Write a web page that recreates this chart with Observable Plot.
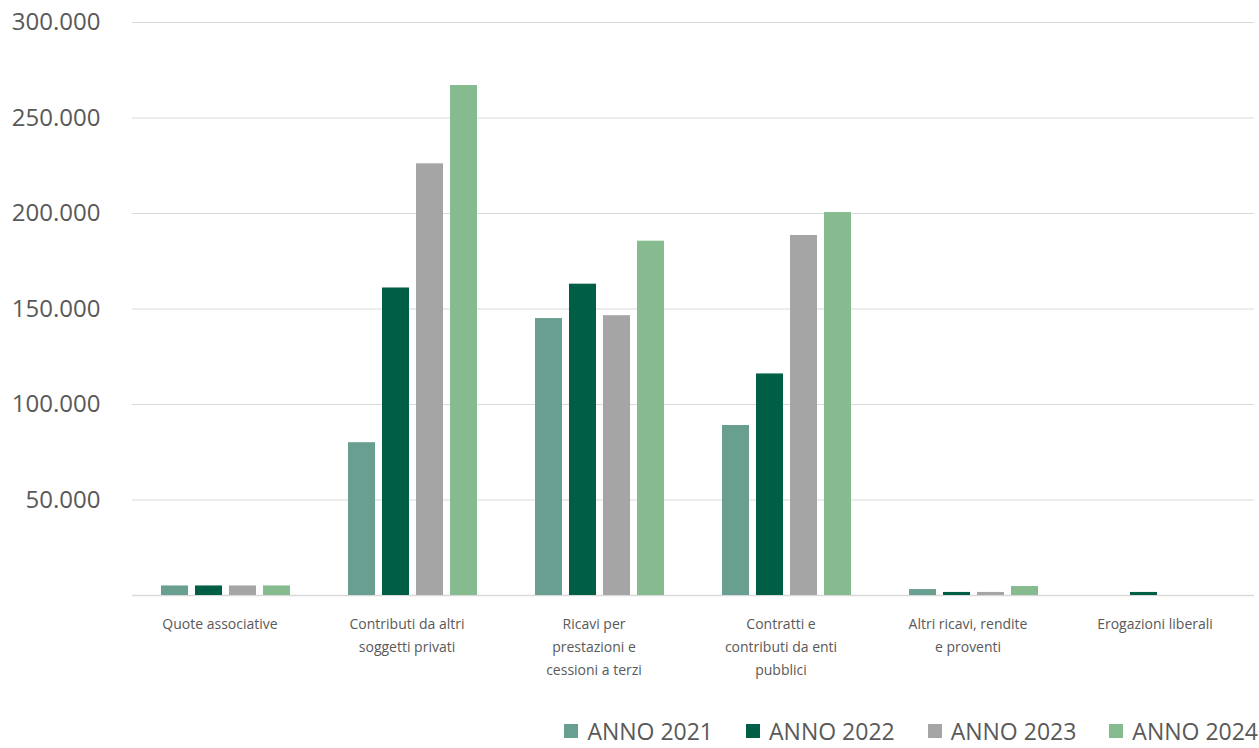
<!DOCTYPE html>
<html><head><meta charset="utf-8">
<script src="https://cdn.jsdelivr.net/npm/d3@7"></script>
<script src="https://cdn.jsdelivr.net/npm/@observablehq/plot@0.6"></script>
<style>
body{margin:0;background:#fff;font-family:"Open Sans",sans-serif;}
#chart{position:relative;width:1259px;height:748px;}
#legend{position:absolute;top:716px;right:1px;display:flex;gap:33px;font-size:23px;color:#595959;line-height:30px;}
.item{display:flex;align-items:center;gap:9px}
.sw{width:14px;height:14px;display:inline-block}
</style></head><body><div id="chart"></div>
<script>
const categories = ["Quote associative","Contributi da altri soggetti privati","Ricavi per prestazioni e cessioni a terzi","Contratti e contributi da enti pubblici","Altri ricavi, rendite e proventi","Erogazioni liberali"];
const categoryLabels = ["Quote associative","Contributi da altri\nsoggetti privati","Ricavi per\nprestazioni e\ncessioni a terzi","Contratti e\ncontributi da enti\npubblici","Altri ricavi, rendite\ne proventi","Erogazioni liberali"];
const years = ["ANNO 2021","ANNO 2022","ANNO 2023","ANNO 2024"];
const colors = ["#689f90","#005e47","#a5a5a5","#85bb8f"];
const values2021 = [5000, 80000, 145000, 89000, 3100, 0];
const values2022 = [5000, 161000, 163000, 116000, 1600, 1600];
const values2023 = [5000, 226000, 146500, 188500, 1600, 0];
const values2024 = [5000, 267000, 185500, 200500, 4700, 0];
const yTicks = [50000, 100000, 150000, 200000, 250000, 300000];

const series = [values2021, values2022, values2023, values2024];
const data = categories.flatMap((c, i) => series.map((arr, j) => ({category: c, year: years[j], value: arr[i]})));
const fmt = d3.formatLocale({decimal: ",", thousands: ".", grouping: [3], currency: ["", ""]}).format(",");
const labelOf = new Map(categories.map((c, i) => [c, categoryLabels[i]]));

const plot = Plot.plot({
  width: 1259, height: 712,
  marginLeft: 130, marginRight: 4, marginTop: 22, marginBottom: 117,
  style: {fontFamily: "'Open Sans', sans-serif", color: "#595959", background: "white", overflow: "visible"},
  fx: {domain: categories, padding: 0, label: null},
  x: {domain: years, paddingInner: 0.2, paddingOuter: 0.835, axis: null},
  y: {domain: [0, 300000], axis: null},
  color: {domain: years, range: colors},
  marks: [
    Plot.gridY(yTicks, {stroke: "#d9d9d9", strokeOpacity: 1, strokeWidth: 1}),
    Plot.ruleY([0], {stroke: "#d9d9d9", strokeWidth: 1.5}),
    Plot.barY(data, {fx: "category", x: "year", y: "value", fill: "year"}),
    Plot.axisY(yTicks, {tickSize: 0, tickPadding: 32, fontSize: 24, tickFormat: fmt, label: null, fill: "#595959"}),
    Plot.axisFx({anchor: "bottom", tickSize: 0, tickPadding: 17, dx: -6, fontSize: 14, lineHeight: 1.65, tickFormat: d => labelOf.get(d), label: null, fill: "#595959"})
  ]
});
const chart = document.getElementById("chart");
chart.appendChild(plot);
const legend = document.createElement("div");
legend.id = "legend";
years.forEach((y, i) => {
  const it = document.createElement("div");
  it.className = "item";
  const sw = document.createElement("span");
  sw.className = "sw";
  sw.style.background = colors[i];
  const tx = document.createElement("span");
  tx.textContent = y;
  it.appendChild(sw); it.appendChild(tx);
  legend.appendChild(it);
});
chart.appendChild(legend);
</script></body></html>
